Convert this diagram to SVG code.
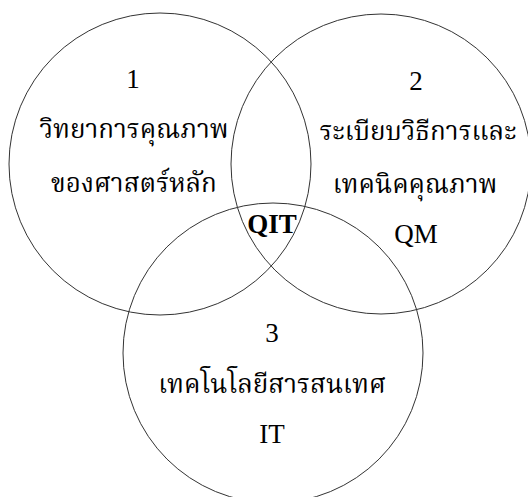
<svg xmlns="http://www.w3.org/2000/svg" width="528" height="497" viewBox="0 0 528 497">
<style>
.c{fill:none;stroke:#333;stroke-width:1}
.t{font-family:"Liberation Serif","Noto Serif Thai","Noto Sans Thai","DejaVu Serif",serif;font-size:27px;fill:#000;text-anchor:middle}
.th{font-size:26px}
.b{font-weight:bold}
</style>
<rect width="528" height="497" fill="#fff"/>
<g id="connectors"></g>
<g id="circle1"><circle class="c" cx="160" cy="164" r="151"/></g>
<g id="circle2"><circle class="c" cx="381" cy="164" r="150"/></g>
<g id="circle3"><circle class="c" cx="273" cy="353" r="150"/></g>
<g id="label1">
<text class="t" x="133" y="88">1</text>
<text class="t th" x="134" y="138">วิทยาการคุณภาพ</text>
<text class="t th" x="134" y="192">ของศาสตร์หลัก</text>
</g>
<g id="label2">
<text class="t" x="416" y="90">2</text>
<text class="t th" x="418" y="140">ระเบียบวิธีการและ</text>
<text class="t th" x="415" y="193">เทคนิคคุณภาพ</text>
<text class="t" x="416" y="243">QM</text>
</g>
<g id="labelQIT"><text class="t b" x="272" y="233">QIT</text></g>
<g id="label3">
<text class="t" x="272" y="342">3</text>
<text class="t th" x="272" y="393">เทคโนโลยีสารสนเทศ</text>
<text class="t" x="272" y="443">IT</text>
</g>
</svg>
